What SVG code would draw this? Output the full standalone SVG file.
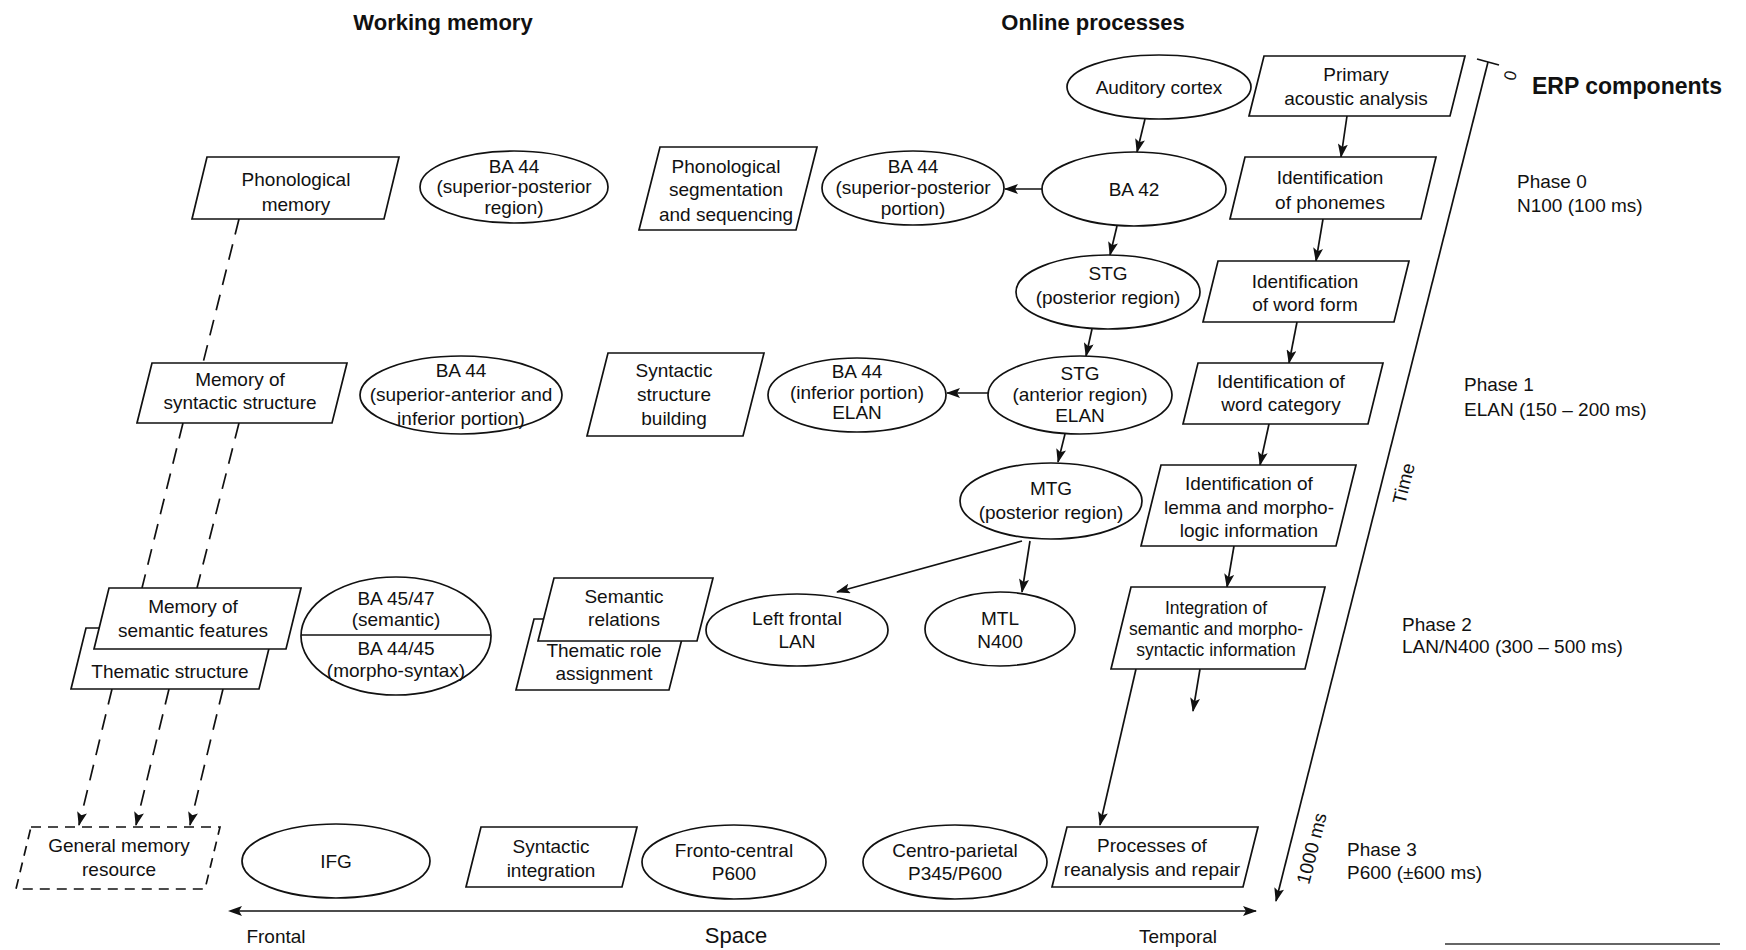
<svg xmlns="http://www.w3.org/2000/svg" width="1746" height="950" viewBox="0 0 1746 950">
<defs>
<marker id="ah" viewBox="0 0 14 10" refX="13" refY="5" markerWidth="14" markerHeight="10" markerUnits="userSpaceOnUse" orient="auto">
<path d="M0,0 L14,5 L0,10 L3,5 z" fill="#111"/>
</marker>
<style>
.n{fill:#fff;stroke:#111;stroke-width:1.7}
.nd{fill:#fff;stroke:#111;stroke-width:1.7;stroke-dasharray:10 7}
.t{font-family:"Liberation Sans",Arial,sans-serif;font-size:19px;fill:#111;text-anchor:middle}
.ts{font-size:17.5px}
.h{font-family:"Liberation Sans",Arial,sans-serif;font-size:22px;font-weight:bold;fill:#111;text-anchor:middle}
.p{font-family:"Liberation Sans",Arial,sans-serif;font-size:19px;fill:#111}
.c{stroke:#111;stroke-width:1.7;fill:none}
.a{marker-end:url(#ah)}
.d{stroke-dasharray:16 10}
</style>
</defs>
<rect width="1746" height="950" fill="#fff"/>

<g id="titles">
<text class="h" x="443" y="30">Working memory</text>
<text class="h" x="1093" y="30">Online processes</text>
<text class="h" x="1532" y="94" style="text-anchor:start;font-size:23px">ERP components</text>
</g>

<g id="phases">
<text class="p" x="1517" y="188">Phase 0</text>
<text class="p" x="1517" y="212">N100 (100 ms)</text>
<text class="p" x="1464" y="391">Phase 1</text>
<text class="p" x="1464" y="416">ELAN (150 – 200 ms)</text>
<text class="p" x="1402" y="631">Phase 2</text>
<text class="p" x="1402" y="653">LAN/N400 (300 – 500 ms)</text>
<text class="p" x="1347" y="856">Phase 3</text>
<text class="p" x="1347" y="879">P600 (±600 ms)</text>
</g>

<g id="axes">
<line class="c" x1="1488" y1="62" x2="1276" y2="901" marker-end="url(#ah)"/>
<line class="c" x1="1477" y1="59" x2="1499" y2="65"/>
<text class="p" transform="translate(1516,77) rotate(-75.8)" text-anchor="middle" style="font-size:17px">0</text>
<text class="p" transform="translate(1410,485) rotate(-75.8)" text-anchor="middle">Time</text>
<text class="p" transform="translate(1318,850) rotate(-75.8)" text-anchor="middle">1000 ms</text>
<line class="c" x1="232" y1="911" x2="1256" y2="911" marker-end="url(#ah)"/>
<path d="M228,911 L242,906 L239,911 L242,916 z" fill="#111"/>
<text class="p" x="276" y="943" text-anchor="middle">Frontal</text>
<text class="p" x="736" y="943" text-anchor="middle" style="font-size:22px">Space</text>
<text class="p" x="1178" y="943" text-anchor="middle">Temporal</text>
<line x1="1445" y1="944" x2="1720" y2="944" stroke="#333" stroke-width="1.4"/>
</g>

<g id="connectors">
<line class="c a" x1="1145" y1="119" x2="1137" y2="152"/>
<line class="c a" x1="1117" y1="226" x2="1110" y2="255"/>
<line class="c a" x1="1092" y1="329" x2="1086" y2="356"/>
<line class="c a" x1="1065" y1="434" x2="1058" y2="462"/>
<line class="c a" x1="1042" y1="189" x2="1005" y2="189"/>
<line class="c a" x1="988" y1="393" x2="947" y2="393"/>
<line class="c a" x1="1022" y1="541" x2="837" y2="592"/>
<line class="c a" x1="1030" y1="541" x2="1022" y2="592"/>
<line class="c a" x1="1347" y1="116" x2="1341" y2="157"/>
<line class="c a" x1="1323" y1="219" x2="1316" y2="261"/>
<line class="c a" x1="1297" y1="322" x2="1289" y2="363"/>
<line class="c a" x1="1269" y1="424" x2="1260" y2="465"/>
<line class="c a" x1="1234" y1="546" x2="1227" y2="587"/>
<line class="c a" x1="1200" y1="669" x2="1193" y2="711"/>
<line class="c a" x1="1136" y1="669" x2="1100" y2="825"/>
<line class="c d" x1="239" y1="219" x2="203" y2="363"/>
<line class="c d" x1="183" y1="423" x2="142" y2="588"/>
<line class="c d" x1="239" y1="423" x2="197" y2="588"/>
<line class="c d a" x1="112" y1="689" x2="79" y2="825"/>
<line class="c d a" x1="169" y1="689" x2="136" y2="825"/>
<line class="c d a" x1="223" y1="689" x2="190" y2="825"/>
</g>

<g id="auditory-cortex"><ellipse class="n" cx="1159" cy="87" rx="92" ry="32"/><text class="t" x="1159" y="94">Auditory cortex</text></g>
<g id="ba42"><ellipse class="n" cx="1134" cy="189" rx="92" ry="37"/><text class="t" x="1134" y="196">BA 42</text></g>
<g id="stg-posterior"><ellipse class="n" cx="1108" cy="292" rx="92" ry="37"/><text class="t" x="1108" y="280">STG</text><text class="t" x="1108" y="304">(posterior region)</text></g>
<g id="stg-anterior"><ellipse class="n" cx="1080" cy="395" rx="92" ry="39"/><text class="t" x="1080" y="380">STG</text><text class="t" x="1080" y="401">(anterior region)</text><text class="t" x="1080" y="422">ELAN</text></g>
<g id="mtg"><ellipse class="n" cx="1051" cy="501" rx="91" ry="38"/><text class="t" x="1051" y="495">MTG</text><text class="t" x="1051" y="519">(posterior region)</text></g>
<g id="mtl"><ellipse class="n" cx="1000" cy="629" rx="75" ry="37"/><text class="t" x="1000" y="625">MTL</text><text class="t" x="1000" y="648">N400</text></g>
<g id="left-frontal"><ellipse class="n" cx="797" cy="630" rx="91" ry="36"/><text class="t" x="797" y="625">Left frontal</text><text class="t" x="797" y="648">LAN</text></g>
<g id="ba44-sp-portion"><ellipse class="n" cx="913" cy="188" rx="91" ry="37"/><text class="t" x="913" y="173">BA 44</text><text class="t" x="913" y="194">(superior-posterior</text><text class="t" x="913" y="215">portion)</text></g>
<g id="ba44-inferior"><ellipse class="n" cx="857" cy="395" rx="89" ry="37"/><text class="t" x="857" y="378">BA 44</text><text class="t" x="857" y="399">(inferior portion)</text><text class="t" x="857" y="419">ELAN</text></g>
<g id="ba44-sp-region"><ellipse class="n" cx="514" cy="187" rx="94" ry="36"/><text class="t" x="514" y="173">BA 44</text><text class="t" x="514" y="193">(superior-posterior</text><text class="t" x="514" y="214">region)</text></g>
<g id="ba44-sa-inferior"><ellipse class="n" cx="461" cy="395" rx="101" ry="39"/><text class="t" x="461" y="377">BA 44</text><text class="t" x="461" y="401">(superior-anterior and</text><text class="t" x="461" y="425">inferior portion)</text></g>
<g id="ba45-47"><ellipse class="n" cx="396" cy="636" rx="95" ry="59"/><line class="c" x1="301" y1="635" x2="491" y2="635"/><text class="t" x="396" y="605">BA 45/47</text><text class="t" x="396" y="626">(semantic)</text><text class="t" x="396" y="655">BA 44/45</text><text class="t" x="396" y="677">(morpho-syntax)</text></g>
<g id="ifg"><ellipse class="n" cx="336" cy="861" rx="94" ry="37"/><text class="t" x="336" y="868">IFG</text></g>
<g id="fronto-central"><ellipse class="n" cx="734" cy="862" rx="92" ry="37"/><text class="t" x="734" y="857">Fronto-central</text><text class="t" x="734" y="880">P600</text></g>
<g id="centro-parietal"><ellipse class="n" cx="955" cy="862" rx="92" ry="37"/><text class="t" x="955" y="857">Centro-parietal</text><text class="t" x="955" y="880">P345/P600</text></g>

<g id="phonological-memory"><polygon class="n" points="207,157 399,157 384,219 192,219"/><text class="t" x="296" y="186">Phonological</text><text class="t" x="296" y="211">memory</text></g>
<g id="phonological-segmentation"><polygon class="n" points="660,147 817,147 796,230 639,230"/><text class="t" x="726" y="173">Phonological</text><text class="t" x="726" y="196">segmentation</text><text class="t" x="726" y="221">and sequencing</text></g>
<g id="memory-syntactic"><polygon class="n" points="152,363 347,363 332,423 137,423"/><text class="t" x="240" y="386">Memory of</text><text class="t" x="240" y="409">syntactic structure</text></g>
<g id="syntactic-building"><polygon class="n" points="608,353 764,353 743,436 587,436"/><text class="t" x="674" y="377">Syntactic</text><text class="t" x="674" y="401">structure</text><text class="t" x="674" y="425">building</text></g>
<g id="thematic-structure"><polygon class="n" points="86,628 274,628 259,689 71,689"/><text class="t" x="170" y="678">Thematic structure</text></g>
<g id="memory-semantic"><polygon class="n" points="109,588 301,588 286,649 94,649"/><text class="t" x="193" y="613">Memory of</text><text class="t" x="193" y="637">semantic features</text></g>
<g id="thematic-role"><polygon class="n" points="534,619 687,619 669,690 516,690"/><text class="t" x="604" y="657">Thematic role</text><text class="t" x="604" y="680">assignment</text></g>
<g id="semantic-relations"><polygon class="n" points="554,578 713,578 697,641 538,641"/><text class="t" x="624" y="603">Semantic</text><text class="t" x="624" y="626">relations</text></g>
<g id="general-memory"><polygon class="nd" points="31,827 220,827 205,889 16,889"/><text class="t" x="119" y="852">General memory</text><text class="t" x="119" y="876">resource</text></g>
<g id="syntactic-integration"><polygon class="n" points="481,827 637,827 622,887 466,887"/><text class="t" x="551" y="853">Syntactic</text><text class="t" x="551" y="877">integration</text></g>
<g id="processes-reanalysis"><polygon class="n" points="1067,827 1258,827 1243,887 1052,887"/><text class="t" x="1152" y="852">Processes of</text><text class="t" x="1152" y="876">reanalysis and repair</text></g>
<g id="primary-acoustic"><polygon class="n" points="1264,56 1465,56 1450,116 1249,116"/><text class="t" x="1356" y="81">Primary</text><text class="t" x="1356" y="105">acoustic analysis</text></g>
<g id="id-phonemes"><polygon class="n" points="1245,157 1436,157 1421,219 1230,219"/><text class="t" x="1330" y="184">Identification</text><text class="t" x="1330" y="209">of phonemes</text></g>
<g id="id-word-form"><polygon class="n" points="1218,261 1409,261 1394,322 1203,322"/><text class="t" x="1305" y="288">Identification</text><text class="t" x="1305" y="311">of word form</text></g>
<g id="id-word-category"><polygon class="n" points="1198,363 1383,363 1368,424 1183,424"/><text class="t" x="1281" y="388">Identification of</text><text class="t" x="1281" y="411">word category</text></g>
<g id="id-lemma"><polygon class="n" points="1161,465 1356,465 1336,546 1141,546"/><text class="t" x="1249" y="490">Identification of</text><text class="t" x="1249" y="514">lemma and morpho-</text><text class="t" x="1249" y="537">logic information</text></g>
<g id="integration"><polygon class="n" points="1131,587 1325,587 1305,669 1111,669"/><text class="t ts" x="1216" y="614">Integration of</text><text class="t ts" x="1216" y="635">semantic and morpho-</text><text class="t ts" x="1216" y="656">syntactic information</text></g>
</svg>
